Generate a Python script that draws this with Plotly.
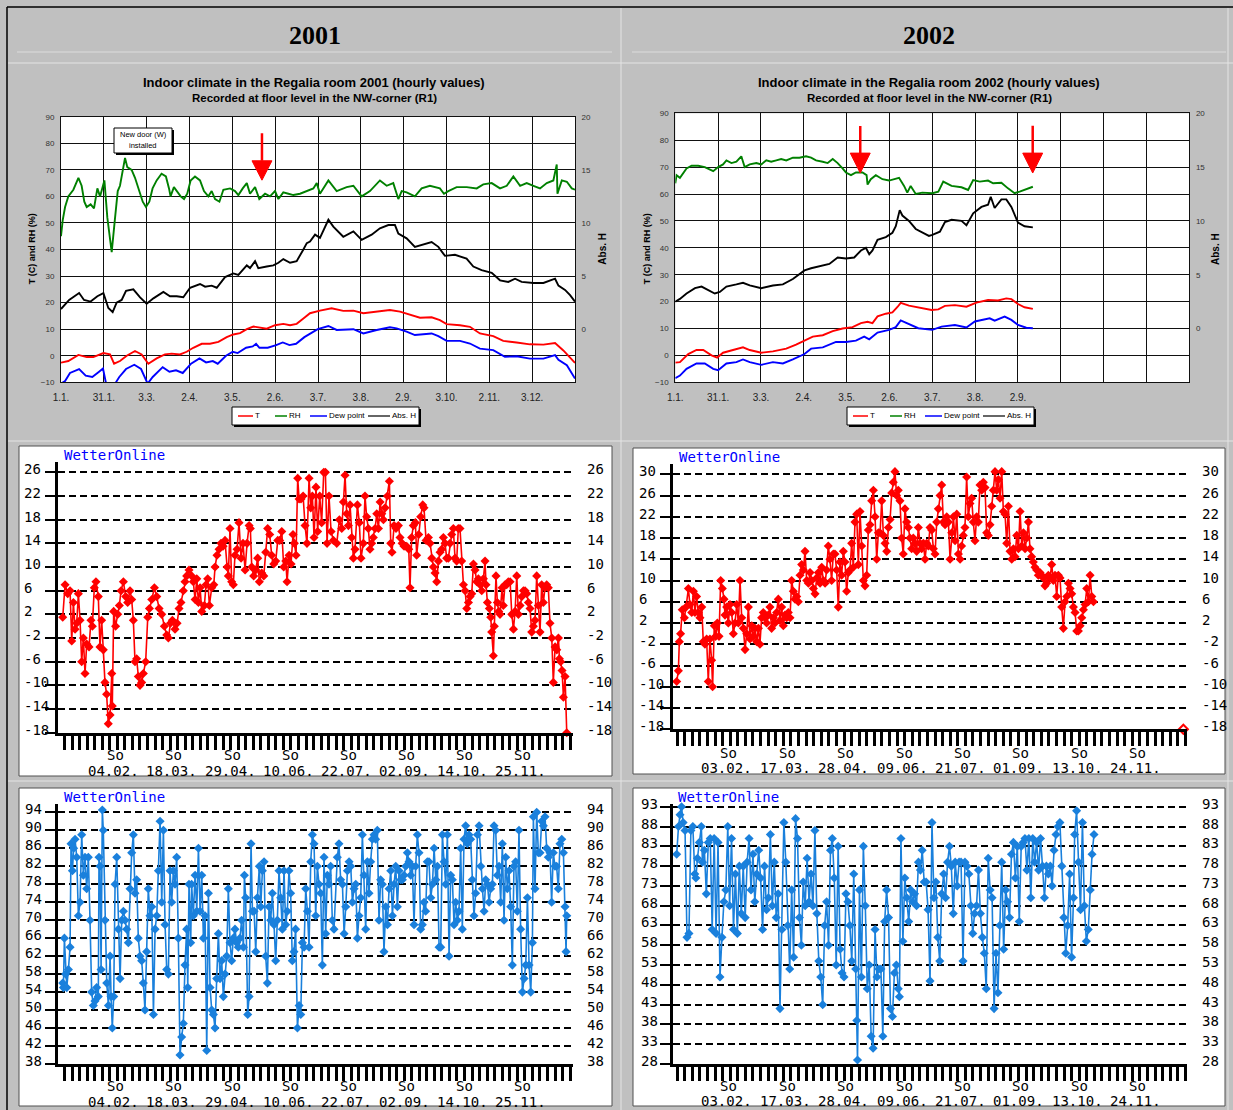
import numpy as np
import plotly.graph_objects as go

# ---------------------------------------------------------------------------
# Indoor climate, Regalia room (day of year, value)
# ---------------------------------------------------------------------------
T01 = [(0, -2.6), (5.2, -2), (12.4, 0.3), (18.3, -0.5), (23, -0.5), (30.2, 1), (34.9, 0.5), (37.8, -3),
       (42, -2), (46.8, 0), (52.7, 1.8), (57.4, 0.5), (62.2, -3), (68.1, -1), (74, 0.5), (78.8, 0.8),
       (84.7, 0.5), (89.5, 1.5), (94.2, 3), (100.2, 4.5), (106.1, 4.5), (112.1, 5.2), (118, 7), (122.7, 8),
       (127.5, 8.5), (132.3, 10), (137, 11), (141.8, 10.5), (146.5, 10.2), (152.4, 11.5), (158.3, 12),
       (163.1, 11.5), (167.8, 12), (172.6, 14), (177.3, 16), (184.4, 17), (192.7, 17.9), (201, 16.9),
       (208.2, 17), (215.3, 16), (222.4, 16.4), (234.2, 17.2), (241.4, 16.6), (248.5, 15.3), (255.6, 14.3),
       (263.9, 14.5), (269.8, 13.4), (274.6, 11.9), (284.1, 11.5), (291.2, 10.9), (298.3, 8.4), (307.8, 7.4),
       (314.9, 5.6), (324.4, 5), (333.9, 4.3), (343.5, 4.2), (351.8, 4.8), (357.7, 2), (362.5, -0.5), (366, -2.7)]

RH01 = [(0, 45), (1.2, 51), (2.9, 56), (5.2, 60), (8.8, 62.5), (12.4, 67), (14.7, 64), (16.6, 58), (18.3, 56),
        (21.1, 57), (23.5, 55.5), (25.9, 63), (27.8, 60), (29.7, 64), (30.9, 66), (33, 52), (36.1, 39), (38.5, 52),
        (40.4, 62), (42, 64), (43.9, 70), (45.6, 74.5), (47.2, 71), (50.3, 70), (52.7, 67), (55, 63), (58.2, 58),
        (60.5, 56), (62.9, 58), (65.2, 63), (68.1, 66), (71.6, 68.5), (74.7, 67.5), (76.9, 63), (78, 60),
        (80.4, 63.5), (82.4, 62), (85.2, 60), (87.6, 59), (89.9, 61), (92.3, 66), (95.4, 67.5), (99, 66),
        (101.8, 62), (104.9, 60), (107.3, 62), (109.7, 59), (112.8, 58), (115.6, 62.5), (120.4, 63), (123.9, 62),
        (126.3, 60.5), (129.4, 63), (132.3, 65), (134.6, 61), (138.2, 63.5), (141.2, 59), (145.3, 61),
        (148.8, 60), (152.4, 62), (154.8, 59), (158.3, 61.5), (161.9, 61), (165.5, 60.5), (170.2, 61),
        (175, 62), (179.7, 63), (182.1, 65), (184.4, 61), (190.4, 66), (196.3, 62), (203.4, 63.5), (208.2, 64),
        (214.1, 60), (220, 62), (227.1, 66), (231.9, 64), (236.6, 65), (240.2, 59), (242.6, 62), (246.1, 61.5),
        (252, 60), (256.8, 63), (262.7, 64), (269.8, 63), (272.7, 61), (275.8, 62), (281.7, 63.5), (288.9, 63.5),
        (296, 63), (300.7, 64.5), (306.7, 65), (312.6, 63), (317.4, 64), (322.1, 67.5), (326.9, 64), (331.6, 65),
        (336.4, 64), (341.1, 63), (345.9, 65), (350.6, 66), (353, 72), (353.5, 61), (356.6, 66), (360.2, 65.5),
        (363.7, 63), (366, 62.5)]

DP01 = [(0, -10.5), (2.9, -9.5), (6.4, -6.5), (12.9, -5), (17.6, -7.5), (22.3, -8), (27.1, -6), (29.9, -4.8),
        (32.3, -11), (36.6, -14), (39.1, -10), (41.5, -8), (46.3, -5), (52.2, -3.4), (57, -5), (61.7, -10.5),
        (65.3, -8), (72.4, -4.3), (77.2, -6), (81.9, -5.5), (86.7, -6.5), (92.6, -3), (98.6, -1), (103.3, -2.5),
        (108.1, -2), (111.6, -3), (117.5, 0), (122.3, 1.5), (125.8, 1), (131.8, 3), (136.5, 3.5), (138.9, 4.5),
        (141.3, 3), (147.2, 3), (153.2, 4), (157.9, 5), (162.7, 4), (167.4, 4.5), (173.3, 7), (179.3, 9),
        (182.8, 10), (190.4, 11.2), (196.3, 9.7), (208.2, 10), (215.3, 8.4), (224.8, 9.7), (234.2, 10.7),
        (239, 10.3), (246.1, 9.1), (252, 7.8), (263.9, 8.4), (268.7, 7.4), (274.6, 5.6), (284.1, 5.6),
        (291.2, 4.6), (298.3, 2.7), (307.8, 2.1), (316.1, -0.4), (324.4, -0.2), (333.9, -1.1), (343.5, -1.1),
        (351.8, 0.2), (354.2, -1.5), (360.2, -3.6), (366, -8.6)]

AH01 = [(0, 1.9), (5.8, 2.75), (12.9, 3.4), (16.4, 2.75), (21.1, 2.6), (25.9, 3.1), (30.2, 3.4), (33.7, 2.0),
        (36.8, 1.6), (39.6, 2.5), (43.2, 2.75), (46.3, 3.6), (51.5, 3.75), (56.3, 3.0), (61, 2.4), (65.8, 2.9),
        (72.9, 3.5), (77.6, 3.1), (82.4, 3.1), (87.1, 3.0), (91.9, 3.9), (99, 4.25), (102.6, 4.0), (107.3, 4.1),
        (110.9, 3.9), (116.8, 4.9), (122.7, 5.25), (126.3, 5.1), (132.3, 6.0), (134.6, 5.75), (138.2, 6.4),
        (140.5, 5.75), (146.5, 5.9), (151.2, 6.0), (154.8, 6.25), (158.3, 6.6), (163.1, 6.25), (167.8, 6.4),
        (172.6, 7.5), (175, 8.1), (177.3, 8.25), (180.9, 8.9), (184.4, 8.6), (190.4, 10.3), (193.9, 9.65),
        (201, 8.7), (208.2, 9.2), (214.1, 8.4), (221.2, 8.9), (227.1, 9.5), (233.1, 9.8), (237.8, 9.8),
        (240.2, 9.0), (246.1, 8.55), (252, 7.75), (258, 8.0), (263.9, 8.2), (268.7, 7.75), (273.4, 6.9),
        (280.5, 7.0), (288.8, 6.65), (293.6, 5.9), (299.5, 5.55), (306.7, 5.3), (312.6, 4.6), (318.5, 4.45),
        (323.3, 4.75), (328, 4.45), (336.4, 4.35), (343.5, 4.35), (351.8, 4.75), (354.2, 4.1), (358.9, 3.7),
        (362.5, 3.2), (366, 2.6)]

T02 = [(0, -2.7), (3.3, -2.5), (9.2, 0.5), (15.1, 2), (19.9, 2), (25.8, 0), (29.8, -0.8), (34, 1), (41.1, 2),
       (48.2, 3), (53, 2), (61.2, 1), (69.5, 1.5), (79, 2.5), (86, 4), (92, 5.5), (97.9, 7), (105, 7.5),
       (112.1, 9), (119.1, 10), (126.2, 10.5), (132.2, 12), (136.9, 12.5), (140.4, 12), (144, 14.5),
       (149.9, 15.5), (154.6, 16), (158.2, 18), (160.5, 19.5), (166.4, 18.5), (173, 17.9), (182.5, 16.9),
       (187.3, 17.1), (192, 18.4), (199.1, 18.7), (207.3, 18.1), (214.4, 19.6), (222.7, 20.6), (229.8, 20.4),
       (235.7, 21.2), (239.3, 20.9), (244, 19.1), (248.7, 17.9), (254.6, 17.3)]

RH02 = [(0, 64), (0.9, 67), (3.3, 66), (8, 69.5), (11.6, 70.5), (16.3, 70.5), (21, 70), (24.6, 69), (27, 68.5),
        (30.5, 70), (34, 71), (36.4, 72.5), (40, 71.5), (43.5, 72), (47, 74), (49.4, 70), (53, 71), (57.7, 71.5),
        (61.2, 71), (64.8, 72.5), (68.3, 72), (71.9, 72.5), (75.4, 73), (79, 72.5), (83.7, 73.5), (88.4, 73.5),
        (93.1, 74), (96.7, 73.5), (100.2, 72.5), (105, 72), (108.5, 71.5), (112.1, 73), (115.6, 71.5),
        (119.1, 69.5), (121.5, 68), (125.1, 67), (128.6, 68), (133.3, 68), (136.2, 67), (136.9, 63.5),
        (139.2, 65.5), (142.8, 67), (147.5, 65.5), (152.2, 65), (157, 65.5), (159.3, 66), (162.9, 63),
        (165.2, 60.5), (167.6, 63), (171.2, 60), (175.9, 60.5), (183, 60.3), (187.3, 60.9), (190.8, 64.6),
        (196.7, 63), (203.8, 62.5), (208.5, 61.5), (212.1, 65.2), (216.8, 64.6), (222.7, 65), (226.3, 64),
        (232.2, 64.2), (236.9, 62.1), (241.6, 60.3), (245.2, 60.9), (249.9, 61.7), (254.6, 62.7)]

DP02 = [(0, -8.5), (3.3, -7.5), (8, -5), (15.1, -3), (21, -3), (27, -5), (30.5, -5.5), (36.4, -3), (43.5, -2.5),
        (48.2, -1.5), (53, -2.5), (61.2, -3.5), (69.5, -2.5), (76.6, -3), (83.7, -1.5), (92, 0.5), (96.7, 2.5),
        (105, 3), (114.4, 5), (121.5, 5), (128.6, 5.5), (134.5, 7), (138.1, 6), (144, 8.5), (152.2, 9.5),
        (157, 10.5), (160.5, 13), (166.4, 11.5), (173, 10.1), (183, 9.5), (189.6, 10.7), (199.1, 11.3),
        (207.3, 10.4), (213.3, 12.6), (223.9, 13.8), (227.4, 12.9), (234.5, 14.4), (239.3, 13.2), (244, 11.3),
        (249.9, 10.3), (254.6, 10.1)]

AH02 = [(0, 2.5), (3.3, 2.75), (8, 3.25), (14, 3.75), (18.7, 3.9), (23.4, 3.6), (28.1, 3.25), (31.7, 3.4),
        (36.4, 3.9), (43.5, 4.1), (48.2, 4.25), (53, 4.0), (61.2, 3.75), (69.5, 4.0), (76.6, 4.1), (83.7, 4.6),
        (92, 5.4), (96.7, 5.6), (102.6, 5.75), (109.7, 6.0), (115.6, 6.6), (121.5, 6.5), (127.4, 6.6),
        (132.2, 7.25), (135.7, 7.5), (138.1, 6.9), (140.4, 7.25), (144, 8.25), (149.9, 8.5), (154.6, 8.9),
        (157, 9.5), (159.8, 11.0), (161.7, 10.5), (166.4, 10.0), (171.2, 9.25), (175.9, 8.9), (180.6, 8.6),
        (183, 8.7), (188.4, 9.0), (192, 9.9), (196.7, 10.1), (203.8, 10.0), (207.3, 9.6), (212.1, 10.7),
        (218, 11.3), (222.7, 11.5), (224.6, 12.25), (227.4, 11.2), (232.2, 12.0), (235.7, 12.0), (239.3, 11.3),
        (244, 9.85), (248.7, 9.5), (254.6, 9.4)]

MONTH_TICKS = [0, 30.5, 61, 91.5, 122, 152.5, 183, 213.5, 244, 274.5, 305, 335.5, 366]
MONTH_LABELS_01 = ["1.1.", "31.1.", "3.3.", "2.4.", "3.5.", "2.6.", "3.7.", "3.8.", "2.9.", "3.10.", "2.11.", "3.12.", ""]
MONTH_LABELS_02 = ["1.1.", "31.1.", "3.3.", "2.4.", "3.5.", "2.6.", "3.7.", "3.8.", "2.9.", "", "", "", ""]

# Event markers: (day, top of shaft, start of head, tip) in % units
ARROWS_01 = [(143.1, 83.8, 73.4, 66.1)]
ARROWS_02 = [(131.7, 85.3, 75.2, 67.8), (254.5, 85.4, 75.2, 67.8)]

# ---------------------------------------------------------------------------
# WetterOnline station series (day of year, value)
# ---------------------------------------------------------------------------
TEMP01 = [(0, 1.5), (1.7, 7), (3.6, 5.5), (5.3, 6), (6.5, -2.5), (7.7, 4), (8.9, -0.5), (10.1, 0.5), (11.3, 5.5),
          (12.5, 1), (13.7, -6), (14.9, -2), (16.1, -8), (17.3, -3), (19, -3.5), (20.4, 1), (21.4, 0), (22.8, 6.5),
          (24, 7.5), (25.7, 5), (26.9, -3.5), (28.1, 1), (29.3, -4), (30.5, -9.5), (31.7, -11.5), (32.9, -16.5),
          (34.2, -15), (35.4, -8), (35.8, -13.5), (36.8, 2.5), (38.2, 0), (39.7, 2), (40.9, 3.5), (42.1, 6),
          (43.8, 7.5), (45.5, 5), (46.9, 4), (48.6, 6), (49.8, 4.5), (51, 1), (52.2, -6), (53.4, -5.5),
          (54.6, -8.5), (55.8, -10), (57, -9.5), (58.2, -8), (59.9, -6), (61.4, 1.5), (62.6, 3), (64.3, 4.5),
          (66.2, 6.5), (67.9, 5), (69.6, 3), (71.5, 2), (73.4, 0), (75.1, -1.5), (76.3, -2), (77.8, 0.5),
          (79.2, 1), (81.1, -0.5), (82.6, 0.5), (84, 3), (85.4, 4), (87.1, 6), (88.3, 7.5), (89.5, 8.5),
          (91.2, 9.5), (93.1, 8.5), (94.3, 7.5), (95.6, 4.5), (96.8, 8), (98, 4), (99.2, 6.5), (100.4, 2.5),
          (102.3, 3.5), (103.5, 7), (104.7, 8), (105.9, 3.5), (107.6, 6.5), (109.1, 7), (110, 10), (111.4, 12),
          (112.9, 13), (114.3, 14), (115.8, 13.5), (117.2, 14.5), (118.7, 10), (119.6, 8.5), (120.8, 16.5),
          (122, 7.5), (123.2, 7), (124.4, 12), (125.9, 13), (127.3, 17.5), (128.8, 11.5), (130.2, 14),
          (131.7, 9.5), (133.1, 14), (134.6, 17), (135.5, 16.5), (136.5, 10), (137.9, 8.5), (139.4, 9.5),
          (140.8, 11.5), (142, 7.5), (143.7, 9), (145.2, 8.5), (146.6, 12.5), (148, 16.5), (149.5, 15.5),
          (150.9, 12), (152.4, 10.5), (153.8, 11), (155.3, 14.5), (156.7, 14.5), (158.2, 16), (159.6, 10),
          (161.1, 11), (162, 7.5), (163.5, 12), (164.9, 10.5), (166.3, 15.5), (167.3, 14), (168.5, 12),
          (169.7, 25), (170.7, 21.5), (172.1, 21.5), (173.6, 22), (175, 17), (176.4, 14), (177.9, 25), (179.1, 20),
          (180.3, 22), (181.5, 15), (182.9, 23.5), (184.1, 16), (185.6, 22), (187, 17.5), (188.5, 26), (189.7, 26),
          (190.9, 14), (192.3, 22), (193.8, 16), (195.5, 14.5), (197.9, 14), (199.8, 18), (201.5, 16.5),
          (202.7, 21), (203.9, 25.5), (205.1, 19), (206.3, 17), (207.5, 20.5), (208.7, 15), (209.9, 11.5),
          (211.1, 13), (212.8, 20.5), (214.2, 17.5), (215.4, 11.5), (217.1, 14), (218.3, 22), (219.5, 18.5),
          (220.7, 16.5), (221.9, 13), (223.1, 14), (224.3, 15), (225.6, 16.5), (226.8, 19), (228, 16.5),
          (229.2, 21), (230.4, 19), (231.6, 18), (232.8, 20), (234.5, 22), (235.9, 24.5), (236.9, 14),
          (237.8, 12.5), (239.3, 17), (240.7, 16.5), (242.4, 17), (243.6, 15), (245.1, 14), (246.5, 13.5),
          (248.4, 13.5), (249.9, 13), (250.8, 6.5), (252, 15), (253.2, 17), (254.7, 17.5), (255.6, 12),
          (257.1, 15.5), (258.5, 18.5), (260, 20.5), (260.9, 20), (262.4, 14.5), (264.1, 15), (265.3, 14),
          (266.5, 11.5), (267.7, 10), (268.9, 9), (270.1, 7.5), (271.3, 11), (272.5, 12.5), (273.7, 13),
          (274.9, 15), (276.1, 14), (277.3, 11.5), (278.5, 11.5), (279.7, 14), (280.9, 15.5), (282.1, 16.5),
          (283.3, 11.5), (284.5, 11), (285.7, 16.5), (286.9, 16.5), (288.1, 11), (289.4, 7), (290.6, 6),
          (291.8, 3), (293, 4), (294.2, 5), (295.4, 5.5), (296.6, 10.5), (297.8, 9.5), (299, 7.5), (300.2, 8),
          (301.4, 7), (302.6, 6), (303.8, 8), (305, 11), (305.7, 7), (306.7, 4), (308.1, 3), (309.1, 1.5),
          (309.8, -1), (311, -5), (311.7, 0), (312.9, 8.5), (313.9, 4), (314.9, 2.5), (315.8, 2), (317.3, 6.5),
          (318.2, 3.5), (319.4, 7), (320.6, 7), (321.8, 7.5), (323.1, 7.5), (324.3, 2), (325.5, -0.5),
          (326.7, 2.5), (327.9, 8.5), (329.1, 2), (330.3, 3.5), (331.5, 5), (332.7, 6), (333.9, 6), (335.1, 5.5),
          (336.3, 4), (337.5, 3), (338.7, -1), (339.9, 0), (341.1, 1), (342.3, 8.5), (343.5, 3.5), (344.7, -1),
          (345.9, 7), (347.1, 4), (348.3, 6.5), (349.5, 7), (350.7, 6.5), (351.9, 0.5), (353.2, -2),
          (354.3, -9.5), (355.6, -3.5), (356.8, -4), (358, -2), (358.7, -5.5), (359.6, -6), (360.6, -7.5),
          (361.6, -12), (362.8, -8.5), (364, -18)]

TEMP02 = [(0, -9), (1.2, -7), (1.9, -1.5), (2.8, 0), (4, 4.5), (5.5, 3), (6.7, 5), (8.4, 8.5), (9.5, 5.5),
          (10.8, 4), (12, 8), (13.1, 4), (14.3, 7), (15.5, 4), (16.7, 3), (18, 5), (19.1, -1.5), (20.3, -2),
          (21.5, -1), (22.7, -9), (23.9, -1), (25.1, -5), (25.8, -10), (27, 1.5), (28, -0.5), (29.2, 2),
          (30.4, -0.5), (31.6, 10), (32.8, 8.5), (34, 6.5), (34.7, 3.5), (35.9, 5), (37.1, 2), (38.3, 5.5),
          (39.5, 4), (40.7, 0), (41.9, 2), (43.1, 5.5), (44.3, 2), (45.5, 10), (46.7, 3), (47.9, 1), (49.1, -3),
          (50.3, 0), (51.5, 5), (52.7, -1), (53.9, 1.5), (55.1, -0.5), (56.3, 1), (57.5, -1.5), (58.7, 1),
          (59.8, -2), (61, 3), (62.2, 4), (63.4, 3), (64.6, 2), (65.8, 3.5), (67, 5), (68.2, 1), (69.4, 3),
          (70.6, 2), (71.8, 4), (73, 6.5), (74.2, 2.5), (75.4, 5), (76.6, 1.5), (77.8, 3.5), (79, 3), (80.2, 4),
          (81.4, 3), (82.6, 10), (83.8, 8), (85, 6.5), (86.2, 7), (87.4, 6), (88.6, 11), (89.8, 13), (91, 12),
          (92.2, 15.5), (93.4, 10), (94.6, 9.5), (95.8, 11.5), (97, 10), (98.2, 8.5), (99.4, 7.5), (100.6, 10.5),
          (101.8, 11.5), (103, 9.5), (104.2, 12.5), (105.4, 10), (106.6, 9.5), (107.7, 12), (108.9, 16.5),
          (110.1, 14), (111.3, 10), (112.5, 15), (113.7, 15), (114.9, 12), (116.1, 5), (117.3, 13.5),
          (118.5, 11), (119.7, 15.5), (120.9, 13.5), (122.1, 8), (123.3, 11.5), (124.5, 12), (125.7, 17),
          (126.9, 12.5), (128.1, 21), (129.3, 22.5), (130.5, 13), (131.7, 23), (132.9, 16.5), (134.1, 10),
          (135.3, 9), (136.5, 11), (137.7, 19.5), (138.9, 20.5), (140.1, 25), (141.3, 27), (142.5, 22),
          (143.7, 14), (144.9, 19), (146.1, 19), (147.3, 25), (148.5, 18.5), (149.7, 17), (150.9, 15.5),
          (152.1, 20), (153.3, 21.5), (154.5, 26.5), (155.6, 28.5), (156.8, 30.5), (158, 26), (159.2, 27),
          (160.4, 25), (161.6, 18), (162.8, 15), (164, 23.5), (165.2, 21), (166.4, 20), (167.6, 18), (168.8, 16),
          (170, 18), (171.2, 17), (172.4, 15.5), (173.6, 20), (174.8, 17), (176, 16), (177.2, 17), (178.4, 14),
          (179.6, 17), (180.8, 16.5), (182, 20), (183.2, 19.5), (184.4, 16), (185.6, 15), (186.8, 21),
          (188, 23.5), (189.2, 26), (190.4, 28), (191.6, 21), (192.8, 20.5), (194, 22), (195.2, 21), (196.4, 14),
          (197.6, 19), (198.8, 22), (200, 17.5), (201.2, 22.5), (202.4, 15), (203.6, 14), (204.7, 16.5),
          (205.9, 18.5), (207.1, 20), (208.3, 29.5), (209.5, 22), (210.7, 24.5), (211.9, 25.5), (213.1, 21),
          (214.3, 17.5), (215.5, 22), (216.7, 21), (217.9, 28), (219.1, 27), (220.3, 28.5), (221.5, 27.5),
          (222.7, 19), (223.9, 18.5), (225.1, 20.5), (226.3, 24), (227.5, 27), (228.7, 30.5), (229.9, 27),
          (231.1, 29), (232.3, 25.5), (233.5, 30.5), (234.7, 23), (235.9, 22.5), (237.1, 17), (238.3, 24),
          (239.5, 15.5), (240.7, 14), (241.9, 16), (243.1, 14.5), (244.3, 18.5), (245.5, 16), (246.7, 23),
          (247.9, 16.5), (249.1, 19), (250.3, 16), (251.5, 18), (252.7, 21), (253.8, 16), (255, 14.5),
          (256.2, 13.5), (257.4, 12.5), (258.6, 12), (259.8, 11), (261, 11.5), (262.2, 11), (263.4, 10.5),
          (264.6, 9), (265.8, 9.5), (267, 11), (268.2, 10.5), (269.4, 13), (270.6, 10), (271.8, 11), (273, 7),
          (274.2, 11), (275.4, 10.5), (276.6, 5), (277.8, 1), (279, 6), (280.2, 7), (281.4, 9.5), (282.6, 8.5),
          (283.8, 7.5), (285, 5), (286.2, 4), (287.4, 0.5), (288.6, 0.5), (289.8, 1.5), (291, 3), (292.2, 4.5),
          (293.4, 5.5), (294.6, 8.5), (295.8, 6), (297, 11), (298.2, 7), (299.4, 6)]
TEMP02_LAST = [(364, -18)]

HUM01 = [(0, 56), (0.5, 55), (1.2, 66), (2.1, 58), (2.9, 55), (4.1, 59), (5.3, 64), (6, 87), (7, 81), (7.9, 86),
         (8.9, 88), (10.1, 84), (11.3, 71), (12.5, 74), (13.7, 89), (14.9, 80), (16.1, 84), (17.3, 77), (18.5, 84),
         (19.7, 70), (20.9, 54), (22.1, 51), (23.3, 52), (24.5, 55), (25.7, 53), (26.2, 84), (26.9, 82), (27.7, 59),
         (28.6, 94.5), (29.3, 90), (30.5, 70), (31.8, 56), (33, 51), (34.2, 62), (34.9, 53), (35.8, 46), (36.8, 53),
         (37.8, 78), (39, 84), (40.2, 68), (41.4, 57), (42.6, 70), (43.8, 72), (45, 70), (46.2, 68), (47.4, 65),
         (48.6, 77), (49.8, 85), (51, 89), (52.2, 76), (53.4, 79), (54.6, 66), (55.8, 62), (57, 61), (58.2, 56),
         (59.4, 50), (60.6, 63), (61.8, 77), (63, 71), (64.3, 73), (65.5, 49), (66.7, 68), (67.9, 71), (69.1, 81),
         (70.3, 92), (71.5, 74), (72.7, 90), (73.9, 69), (75.1, 59), (76.3, 58), (77.5, 81), (78.7, 74), (79.9, 81),
         (81.1, 78), (82.3, 84), (83.5, 66), (84.7, 40), (85.9, 44), (87.1, 47), (88.3, 60), (89.5, 68), (90.3, 55),
         (91.2, 78), (92.4, 65), (93.1, 78), (94.3, 71), (95.6, 80), (96.8, 72), (98, 86), (99.2, 72), (100.4, 80),
         (101.6, 66), (102.8, 71), (104, 41), (105.2, 76), (106.4, 55), (107.6, 50), (108.8, 49), (110, 46),
         (111.2, 57), (112.4, 67), (113.6, 57), (114.8, 61), (116, 53), (117.2, 58), (118.4, 62), (119.6, 77),
         (120.8, 65), (122, 61), (123.2, 66), (124.4, 68), (125.6, 65), (126.8, 64), (128, 66), (129.2, 70),
         (130.5, 64), (131.2, 80), (132.1, 75), (133.6, 49), (134.6, 53), (136, 87), (137, 72), (138.2, 72),
         (139.4, 63), (140.6, 75), (142, 82), (143, 73), (144.2, 81), (145.4, 83), (146.6, 62), (147.8, 56),
         (149, 73), (150.2, 70), (151.4, 76), (152.6, 69), (153.8, 61), (155, 70), (156.2, 81), (157.4, 75),
         (158.6, 68), (159.8, 81), (161, 69), (162.2, 72), (163.4, 81), (164.6, 76), (165.8, 61), (167, 63),
         (168.2, 68), (169.5, 46), (170.7, 51), (171.9, 49), (173.1, 65), (174.3, 64), (175.5, 77), (176.7, 72),
         (177.9, 64), (179.1, 83), (180.3, 89), (181.5, 87), (182.7, 71), (183.9, 82), (185.1, 78), (186.3, 76),
         (187.5, 60), (188.7, 84), (189.9, 67), (191.1, 80), (192.3, 78), (193.5, 82), (194.7, 70), (195.9, 68),
         (198.3, 84), (199.5, 87), (200.7, 79), (202, 78), (203.2, 67), (204.4, 73), (205.6, 81), (206.8, 83),
         (208, 82), (209.2, 74), (210.4, 77), (211.6, 78), (212.8, 66), (214, 71), (215.2, 75), (216.4, 89),
         (217.6, 80), (218.8, 68), (220, 83), (221.2, 76), (222.4, 83), (223.6, 88), (224.8, 89), (226, 88),
         (227.2, 90), (228.4, 70), (229.6, 79), (230.8, 78), (232, 63), (233.3, 73), (234.5, 69), (235.7, 77),
         (236.9, 81), (238.1, 71), (239.3, 78), (240.5, 82), (241.7, 73), (242.9, 81), (244.1, 79), (245.3, 79),
         (246.5, 80), (247.7, 82), (248.9, 85), (250.1, 83), (251.3, 80), (252.5, 82), (253.7, 69), (254.9, 82),
         (256.1, 89), (257.3, 85), (258.5, 68), (259.7, 69), (260.9, 74), (262.1, 72), (263.3, 83), (264.5, 83),
         (265.8, 75), (267, 78), (268.2, 86), (269.4, 79), (270.6, 82), (271.8, 64), (273, 64), (274.2, 89),
         (275.4, 83), (276.6, 78), (277.8, 89), (279, 62), (280.2, 80), (281.4, 79), (282.6, 69), (283.8, 74),
         (285, 70), (286.2, 72), (287.4, 86), (288.6, 68), (289.8, 88), (291, 91), (292.2, 87), (293.4, 89),
         (294.6, 88), (295.8, 79), (297, 71), (298.2, 76), (299.5, 89), (300.7, 91), (301.9, 82), (303.1, 77),
         (304.3, 72), (305.5, 79), (306.7, 78), (307.9, 74), (309.1, 77), (310.3, 78), (311.5, 91), (312.7, 90),
         (313.9, 80), (315.1, 82), (316.3, 74), (317.5, 87), (318.7, 70), (319.9, 84), (321.1, 77), (322.3, 81),
         (323.5, 73), (324.7, 60), (325.9, 82), (327.1, 83), (328.3, 72), (329.5, 90), (330.7, 68), (332, 54),
         (333.2, 57), (334.4, 60), (335.6, 75), (336.8, 60), (338, 54), (339.2, 65), (339.9, 93), (341.1, 77),
         (342.3, 94), (343.5, 85), (344.7, 85), (345.9, 92), (347.1, 91), (348.3, 93), (349.5, 86), (350.7, 84),
         (351.9, 85), (353.1, 74), (354.3, 85), (355.5, 82), (356.7, 82), (357.9, 77), (359.1, 87), (360.4, 88),
         (361.6, 85), (362.8, 73), (363.5, 63), (364, 71)]

HUM02 = [(0, 81), (1.3, 88), (2.4, 91), (3.5, 93), (4.6, 89), (6, 87), (7.4, 60), (8.8, 61), (10.2, 87), (11.6, 88),
         (13, 76), (13.8, 75), (14.9, 80), (16.3, 84), (17.7, 88), (18.5, 79), (19.9, 82), (21.3, 71), (22.7, 84),
         (24.1, 85), (25.5, 62), (26.9, 85), (28.3, 61), (29.7, 84), (31.1, 50), (32.5, 60), (33.9, 69), (35.3, 72),
         (36.7, 88), (38, 68), (39.4, 85), (40.8, 62), (42.2, 76), (43.6, 61), (45, 78), (46.4, 66), (47.8, 78),
         (49.2, 65), (50.6, 79), (52, 85), (53.4, 72), (54.8, 81), (56.1, 69), (57.5, 76), (58.9, 82), (60.3, 75),
         (61.7, 62), (63.1, 78), (64.5, 67), (65.9, 70), (67.3, 86), (68.7, 68), (70.1, 79), (71.5, 65), (72.9, 71),
         (74.2, 42), (75.6, 62), (77, 89), (78.4, 79), (79.8, 63), (81.2, 52), (82.6, 72), (84, 55), (85.4, 90),
         (86.8, 85), (88.2, 65), (89.6, 58), (90.9, 74), (92.3, 68), (93.7, 80), (95.1, 69), (96.5, 76), (97.9, 68),
         (99.3, 87), (100.7, 66), (102.1, 54), (103.5, 50), (104.9, 43), (106.3, 63), (107.7, 69), (109.1, 58),
         (110.5, 82), (111.8, 85), (113.2, 75), (114.6, 53), (116, 83), (117.4, 57), (118.8, 51), (120.2, 50),
         (121.6, 71), (123, 69), (124.4, 63), (125.8, 54), (127.2, 76), (128.6, 52), (129.4, 39), (129.9, 29),
         (131.3, 72), (132.7, 50), (134.1, 83), (135.5, 68), (136.9, 47), (138.3, 53), (139.7, 35), (141.1, 32),
         (142.5, 62), (143.9, 50), (145.3, 52), (146.7, 52), (148.1, 35), (149.4, 64), (150.8, 72), (152.2, 65),
         (153.6, 42), (155, 40), (156.4, 51), (157.8, 53), (159.2, 47), (160, 45), (161.1, 85), (162.5, 59),
         (163.9, 75), (165.3, 70), (166.7, 64), (168.1, 72), (169.5, 69), (170.9, 71), (172.3, 68), (173.7, 79),
         (175.1, 77), (176.4, 82), (177.8, 74), (179.2, 74), (180.6, 67), (182, 49), (183.4, 89), (184.8, 70),
         (186.2, 74), (187.6, 60), (189, 54), (190.4, 71), (191.8, 76), (193.2, 70), (194.6, 79), (196, 83),
         (197.3, 78), (198.7, 66), (200.1, 79), (201.5, 73), (202.9, 79), (204.3, 79), (205.7, 54), (207.1, 79),
         (208.5, 78), (209.9, 76), (211.3, 68), (212.7, 61), (214, 66), (215.4, 68), (216.8, 77), (218.2, 66),
         (219.6, 60), (221, 56), (222.4, 47), (223.8, 80), (225.2, 72), (226.6, 70), (228, 42), (229.4, 56),
         (230.8, 46), (232.1, 63), (233.5, 79), (234.9, 57), (236.3, 72), (237.7, 69), (239.1, 65), (240.5, 81),
         (241.9, 84), (243.3, 75), (244.7, 83), (246.1, 64), (247.5, 83), (248.9, 84), (250.2, 85), (251.6, 77),
         (253, 85), (254.4, 70), (255.8, 85), (257.2, 79), (258.6, 84), (260, 77), (261.4, 85), (262.8, 78),
         (264.2, 70), (265.6, 78), (267, 76), (268.4, 78), (269.7, 73), (271.1, 82), (272.5, 86), (273.9, 88),
         (275.3, 89), (276.7, 78), (278.1, 65), (279.5, 56), (280.9, 63), (282.3, 76), (283.7, 55), (285.1, 70),
         (285.9, 86), (287.3, 92), (288.7, 79), (290.1, 67), (291.5, 89), (292.9, 68), (294.3, 59), (295.7, 62),
         (297.1, 72), (298.4, 81), (299.8, 86)]

SUNDAYS_01 = [34, 76, 118, 160, 202, 244, 286, 328]
SUNDAY_LABELS_01 = ["04.02.", "18.03.", "29.04.", "10.06.", "22.07.", "02.09.", "14.10.", "25.11."]
SUNDAYS_02 = [33, 75, 117, 159, 201, 243, 285, 327]
SUNDAY_LABELS_02 = ["03.02.", "17.03.", "28.04.", "09.06.", "21.07.", "01.09.", "13.10.", "24.11."]

TEMP01_TICKS = list(range(-18, 27, 4))
TEMP02_TICKS = list(range(-18, 31, 4))
HUM01_TICKS = list(range(38, 95, 4))
HUM02_TICKS = list(range(28, 94, 5))

# ---------------------------------------------------------------------------
# page geometry / styling
# ---------------------------------------------------------------------------
W, H = 1233, 1110
PAGE = "#c0c0c0"
SANS = "Liberation Sans, Arial, sans-serif"
MONO = "DejaVu Sans Mono, monospace"
SERIF = "Liberation Serif, Times New Roman, serif"
RED, GREEN, BLUE, BLACK = "#ff0000", "#008000", "#0000ff", "#000000"
SKY = "#1a80dc"
DAY_TICK_STEP = 5.45     # spacing of the small marks under the WetterOnline axes


def X(px):
    return px / W


def Y(py):
    return 1 - py / H


def ref(letter, n):
    return letter if n == 1 else f"{letter}{n}"


def key(letter, n):
    return f"{letter}axis" if n == 1 else f"{letter}axis{n}"


def unzip(pairs):
    return [p[0] for p in pairs], [p[1] for p in pairs]


fig = go.Figure()
shapes, annotations, axes = [], [], {}


def text(x, y, s, size, family, color="#000", xanchor="center", yanchor="middle",
         xref="paper", yref="paper", angle=0, yshift=0, xshift=0):
    annotations.append(dict(x=x, y=y, xref=xref, yref=yref, text=s, showarrow=False,
                            font=dict(family=family, size=size, color=color),
                            xanchor=xanchor, yanchor=yanchor, textangle=angle,
                            yshift=yshift, xshift=xshift, borderpad=0))


def rect(x0, y0, x1, y1, fill=None, line=None, width=1, layer="above"):
    shapes.append(dict(type="rect", xref="paper", yref="paper", x0=X(x0), x1=X(x1), y0=Y(y1), y1=Y(y0),
                       fillcolor=fill or "rgba(0,0,0,0)",
                       line=dict(color=line or "rgba(0,0,0,0)", width=width if line else 0), layer=layer))


def hline(x0, x1, y, color, width=1, layer="above"):
    shapes.append(dict(type="line", xref="paper", yref="paper", x0=X(x0), x1=X(x1), y0=Y(y), y1=Y(y),
                       line=dict(color=color, width=width), layer=layer))


def vline(x, y0, y1, color, width=1, layer="above"):
    shapes.append(dict(type="line", xref="paper", yref="paper", x0=X(x), x1=X(x), y0=Y(y0), y1=Y(y1),
                       line=dict(color=color, width=width), layer=layer))


# ---------------------------------------------------------------------------
# page frame (table cells)
# ---------------------------------------------------------------------------
hline(7, 1233, 7, "#000000", 1.5)
vline(7, 7, 1110, "#000000", 1.5)
hline(17, 612, 52, "#dcdcdc", 1)
hline(632, 1226, 52, "#dcdcdc", 1)
hline(8, 1233, 63, "#e4e4e4", 1)
vline(621, 8, 1110, "#e4e4e4", 1)
vline(1228, 8, 1110, "#e4e4e4", 1)
hline(8, 1233, 441, "#e4e4e4", 1)
hline(8, 1233, 781, "#e4e4e4", 1)

text(X(315), Y(35), "<b>2001</b>", 26, SERIF)
text(X(929), Y(35), "<b>2002</b>", 26, SERIF)


# ---------------------------------------------------------------------------
# indoor climate panels
# ---------------------------------------------------------------------------
def indoor_panel(nx, ny, ny2, box, labels, series, arrows, year, cx, ytitle_x, abs_x, legend_x):
    x0, y0, x1, y1 = box
    axes[key("x", nx)] = dict(domain=[X(x0), X(x1)], range=[0, 366], tickvals=MONTH_TICKS, ticktext=labels,
                              showgrid=True, gridcolor="#111", gridwidth=1, showline=True, mirror=True,
                              linecolor="#111", linewidth=1, ticks="outside", ticklen=6,
                              tickcolor="rgba(0,0,0,0)", tickfont=dict(family=SANS, size=10, color="#222"),
                              zeroline=False, anchor=ref("y", ny), fixedrange=True, automargin=False)
    axes[key("y", ny)] = dict(domain=[Y(y1), Y(y0)], range=[-10, 90], tick0=0, dtick=10, showgrid=True,
                              gridcolor="#111", gridwidth=1, showline=True, mirror=True, linecolor="#111",
                              linewidth=1, ticks="outside", ticklen=4, tickcolor="rgba(0,0,0,0)",
                              tickfont=dict(family=SANS, size=8, color="#333"), zeroline=False,
                              anchor=ref("x", nx), fixedrange=True, automargin=False)
    axes[key("y", ny2)] = dict(range=[-5, 20], tickvals=[0, 5, 10, 15, 20], overlaying=ref("y", ny),
                               side="right", anchor=ref("x", nx), showgrid=False, zeroline=False,
                               ticks="outside", ticklen=4, tickcolor="rgba(0,0,0,0)",
                               tickfont=dict(family=SANS, size=8, color="#333"), fixedrange=True,
                               automargin=False)
    t, rh, dp, ah = series
    for pairs, color, axis in ((t, RED, ny), (rh, GREEN, ny), (dp, BLUE, ny), (ah, BLACK, ny2)):
        xs, ys = unzip(pairs)
        fig.add_trace(go.Scatter(x=xs, y=ys, mode="lines", line=dict(color=color, width=1.9),
                                 xaxis=ref("x", nx), yaxis=ref("y", axis), showlegend=False,
                                 hoverinfo="skip"))
    for day, top, head, tip in arrows:
        shapes.append(dict(type="line", xref=ref("x", nx), yref=ref("y", ny), x0=day, x1=day, y0=top, y1=head,
                           line=dict(color=RED, width=2.5)))
        shapes.append(dict(type="path", xref=ref("x", nx), yref=ref("y", ny),
                           path=f"M {day - 7.1},{head} L {day + 7.1},{head} L {day},{tip} Z",
                           fillcolor=RED, line=dict(color=RED, width=1)))
    text(X(cx), Y(82), f"<b>Indoor climate in the Regalia room {year} (hourly values)</b>", 13, SANS)
    text(X(cx), Y(98), "<b>Recorded at floor level in the NW-corner (R1)</b>", 11.5, SANS)
    text(X(ytitle_x), Y(249), "<b>T (C) and RH (%)</b>", 9, SANS, angle=-90)
    text(X(abs_x), Y(249), "<b>Abs. H</b>", 10, SANS, angle=-90)
    # legend box
    lx = legend_x
    rect(lx + 2, 409, lx + 189, 427, fill="#000")
    rect(lx, 407, lx + 187, 425, fill="#fff", line="#000", width=1)
    for off0, off1, color, label in ((6, 21, RED, "T"), (43, 55, GREEN, "RH"), (78, 95, BLUE, "Dew point"),
                                      (136, 158, "#333", "Abs. H")):
        hline(lx + off0, lx + off1, 416, color, 1.5)
        text(X(lx + off1 + 1), Y(416), label, 8, SANS, xanchor="left")


indoor_panel(1, 1, 2, (61, 116.7, 575, 382.3), MONTH_LABELS_01, (T01, RH01, DP01, AH01), ARROWS_01,
             2001, 314, 32.3, 601.7, 232)
indoor_panel(2, 3, 4, (675.3, 113.3, 1189.3, 382.3), MONTH_LABELS_02, (T02, RH02, DP02, AH02), ARROWS_02,
             2002, 929, 647.3, 1215, 847)

# note box in the 2001 panel
rect(116, 130, 174, 155, fill="#000")
rect(114, 128, 172, 153, fill="#fff", line="#000", width=1)
text(X(143), Y(135), "New door (W)", 7.5, SANS)
text(X(143), Y(145), "installed", 7.5, SANS)


# ---------------------------------------------------------------------------
# WetterOnline panels
# ---------------------------------------------------------------------------
def wetter_panel(nx, ny, ny2, box, plot, xr, yr, yticks, pairs, color, sundays, labels,
                 left_px, right_px, so_py, date_py, wo_xy, extra=None):
    bx0, by0, bx1, by1 = box
    rect(bx0, by0, bx1, by1, fill="#ffffff", line="#505050", width=1, layer="below")
    x0, y0, x1, y1 = plot
    axes[key("x", nx)] = dict(domain=[X(x0), X(x1)], range=xr, anchor=ref("y", ny), showline=True,
                              linecolor="#000", linewidth=3, ticks="outside", ticklen=14, tickwidth=3,
                              tickcolor="#000", tick0=sundays[0], dtick=DAY_TICK_STEP, showticklabels=False,
                              showgrid=False, zeroline=False, fixedrange=True, automargin=False)
    axes[key("y", ny)] = dict(domain=[Y(y1), Y(y0)], range=yr, anchor=ref("x", nx), showline=True,
                              linecolor="#000", linewidth=3, ticks="outside", ticklen=10, tickwidth=2,
                              tickcolor="#000", tickvals=yticks, showticklabels=False, showgrid=True,
                              gridcolor="#000", gridwidth=2, griddash="7px,4px", zeroline=False,
                              fixedrange=True, automargin=False)
    axes[key("y", ny2)] = dict(range=yr, overlaying=ref("y", ny), anchor=ref("x", nx), side="right",
                               showline=True, linecolor="#000", linewidth=3, ticks="outside", ticklen=10,
                               tickwidth=2, tickcolor="#000", tickvals=yticks, showticklabels=False,
                               showgrid=False, zeroline=False, fixedrange=True, automargin=False)
    xs, ys = unzip(pairs)
    fig.add_trace(go.Scatter(x=xs, y=ys, mode="lines+markers", line=dict(color=color, width=1.6),
                             marker=dict(symbol="diamond", size=7, color=color), cliponaxis=False,
                             xaxis=ref("x", nx), yaxis=ref("y", ny), showlegend=False, hoverinfo="skip"))
    if extra:
        ex, ey = unzip(extra)
        fig.add_trace(go.Scatter(x=ex, y=ey, mode="markers", cliponaxis=False,
                                 marker=dict(symbol="diamond-open", size=7, color=color, line=dict(width=2)),
                                 xaxis=ref("x", nx), yaxis=ref("y", ny), showlegend=False, hoverinfo="skip"))
    for v in yticks:
        text(X(left_px), v, str(v), 14, MONO, xanchor="left", yref=ref("y", ny), yshift=3)
        text(X(right_px), v, str(v), 14, MONO, xanchor="left", yref=ref("y", ny), yshift=3)
    for d, lab in zip(sundays, labels):
        text(d, Y(so_py), "So", 14, MONO, xref=ref("x", nx), xshift=6)
        text(d, Y(date_py), lab, 14, MONO, xref=ref("x", nx), xshift=4)
    text(X(wo_xy[0]), Y(wo_xy[1]), "WetterOnline", 14, MONO, color="#0000ff", xanchor="left")


wetter_panel(3, 5, 6, (19, 446, 612, 776), (58.3, 461.7, 572.7, 732.7), [-3.2, 368.3], [-18, 27.8],
             TEMP01_TICKS, TEMP01, RED, SUNDAYS_01, SUNDAY_LABELS_01, 23, 586, 755, 770.7, (63, 455))
wetter_panel(4, 7, 8, (633, 448, 1225, 774), (672.7, 464, 1186.7, 729.3), [-2.87, 366.4], [-18, 31.94],
             TEMP02_TICKS, TEMP02, RED, SUNDAYS_02, SUNDAY_LABELS_02, 638.3, 1201, 753.3, 768.3, (677.7, 457.3),
             extra=TEMP02_LAST)
wetter_panel(5, 9, 10, (19, 788, 612, 1106), (58.3, 804, 572.7, 1064), [-3.2, 368.3], [38, 95.85],
             HUM01_TICKS, HUM01, SKY, SUNDAYS_01, SUNDAY_LABELS_01, 24.3, 586, 1086, 1101.7, (63, 796.7))
wetter_panel(6, 11, 12, (633, 788, 1225, 1106), (672.7, 804, 1186.7, 1064), [-2.87, 366.4], [28, 93.7],
             HUM02_TICKS, HUM02, SKY, SUNDAYS_02, SUNDAY_LABELS_02, 639.7, 1200.6, 1086, 1101, (677.3, 796.7))

fig.update_layout(width=W, height=H, margin=dict(l=0, r=0, t=0, b=0, pad=0, autoexpand=False),
                  paper_bgcolor=PAGE, plot_bgcolor="#ffffff", showlegend=False,
                  shapes=shapes, annotations=annotations, **axes)
# the page body gets no default margin so the figure sits flush in the window
fig.write_html("out.html", post_script="document.body.style.margin='0px';document.body.style.padding='0px';")
